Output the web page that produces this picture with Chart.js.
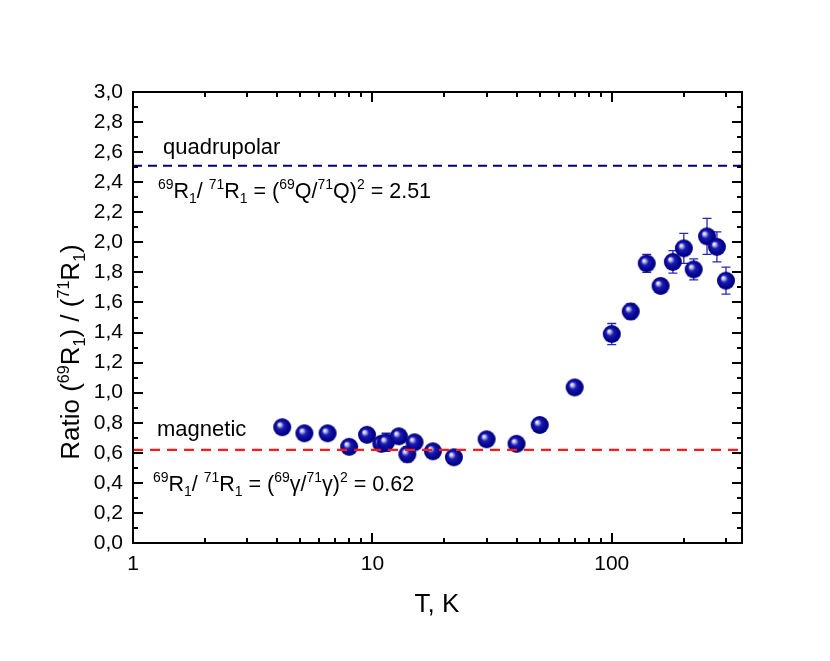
<!DOCTYPE html>
<html>
<head>
<meta charset="utf-8">
<script src="https://cdn.jsdelivr.net/npm/chart.js@4/dist/chart.umd.min.js"></script>
<style>
html,body{margin:0;padding:0;background:#fff;}
#wrap{width:830px;height:661px;}
</style>
</head>
<body>
<div id="wrap"><canvas id="c" width="830" height="661"></canvas></div>
<script>
// ---- data ----
const temperature = [4.2, 5.2, 6.5, 8.0, 9.5, 10.9, 11.4, 12.9, 14.0, 15.0, 17.9, 21.9, 30, 40, 50, 70, 100, 120, 140, 160, 180, 200, 220, 250, 275, 300];
const ratio = [0.77, 0.73, 0.73, 0.64, 0.72, 0.66, 0.67, 0.71, 0.59, 0.67, 0.61, 0.57, 0.69, 0.66, 0.785, 1.035, 1.39, 1.54, 1.86, 1.71, 1.87, 1.96, 1.82, 2.04, 1.97, 1.745];
const ratioErr = [0.02, 0.02, 0.02, 0.02, 0.03, 0.03, 0.06, 0.03, 0.05, 0.03, 0.02, 0.02, 0.02, 0.02, 0.02, 0.03, 0.07, 0.05, 0.06, 0.04, 0.075, 0.1, 0.07, 0.12, 0.1, 0.09];
const quadrupolarLimit = 2.51;
const magneticLimit = 0.62;
const xRange = [1, 350];
const yRange = [0, 3];
const xLabelTicks = [1, 10, 100];
const xMinorTicks = [2,3,4,5,6,7,8,9,20,30,40,50,60,70,80,90,200,300];

const FONT = '"Liberation Sans", Arial, Helvetica, sans-serif';

// sphere marker
function makeSphere(r) {
  const c = document.createElement('canvas');
  const s = Math.ceil(r * 2 + 2);
  c.width = s; c.height = s;
  const g = c.getContext('2d');
  const cx = s / 2, cy = s / 2;
  const grad = g.createRadialGradient(cx - r * 0.35, cy - r * 0.35, 0, cx, cy, r);
  grad.addColorStop(0, '#ffffff');
  grad.addColorStop(0.16, '#c8c8f0');
  grad.addColorStop(0.42, '#1a1ab0');
  grad.addColorStop(0.85, '#00008c');
  grad.addColorStop(1, '#000070');
  g.fillStyle = grad;
  g.beginPath(); g.arc(cx, cy, r, 0, Math.PI * 2); g.fill();
  return c;
}
const sphere = makeSphere(9);

function drawRich(ctx, segs, x, y, size, align, ratioSmall) {
  const small = size * (ratioSmall || 0.62);
  let w = 0;
  segs.forEach(sg => {
    ctx.font = (sg.s ? small : size) + 'px ' + FONT;
    sg.w = ctx.measureText(sg.t).width;
    w += sg.w;
  });
  let cx = align === 'center' ? x - w / 2 : x;
  ctx.textBaseline = 'alphabetic';
  ctx.textAlign = 'left';
  segs.forEach(sg => {
    ctx.font = (sg.s ? small : size) + 'px ' + FONT;
    let dy = 0;
    if (sg.s === 'sup') dy = -size * 0.4;
    if (sg.s === 'sub') dy = size * 0.22;
    ctx.fillText(sg.t, cx, y + dy);
    cx += sg.w;
  });
}

const decor = {
  id: 'decor',
  beforeDatasetsDraw(chart) {
    const ctx = chart.ctx, xs = chart.scales.x, ys = chart.scales.y;
    ctx.save();
    ctx.strokeStyle = '#2828b8';
    ctx.lineWidth = 1.3;
    for (let i = 0; i < temperature.length; i++) {
      const px = xs.getPixelForValue(temperature[i]);
      const y1 = ys.getPixelForValue(ratio[i] - ratioErr[i]);
      const y2 = ys.getPixelForValue(ratio[i] + ratioErr[i]);
      ctx.beginPath();
      ctx.moveTo(px, y1); ctx.lineTo(px, y2);
      ctx.moveTo(px - 4.5, y1); ctx.lineTo(px + 4.5, y1);
      ctx.moveTo(px - 4.5, y2); ctx.lineTo(px + 4.5, y2);
      ctx.stroke();
    }
    ctx.restore();
  },
  afterDraw(chart) {
    const ctx = chart.ctx, xs = chart.scales.x, ys = chart.scales.y;
    const a = chart.chartArea;
    ctx.save();
    ctx.strokeStyle = '#000';
    ctx.lineWidth = 2;
    ctx.strokeRect(a.left, a.top, a.right - a.left, a.bottom - a.top);
    ctx.beginPath();
    const tickX = (v, len) => {
      const p = Math.round(xs.getPixelForValue(v));
      ctx.moveTo(p, a.bottom); ctx.lineTo(p, a.bottom - len);
      ctx.moveTo(p, a.top); ctx.lineTo(p, a.top + len);
    };
    xLabelTicks.forEach(v => tickX(v, 10));
    xMinorTicks.forEach(v => tickX(v, 5));
    for (let k = 0; k <= 30; k++) {
      const v = k / 10;
      const len = k % 2 === 0 ? 10 : 5;
      const p = Math.round(ys.getPixelForValue(v));
      ctx.moveTo(a.left, p); ctx.lineTo(a.left + len, p);
      ctx.moveTo(a.right, p); ctx.lineTo(a.right - len, p);
    }
    ctx.stroke();

    ctx.fillStyle = '#000';
    // annotations
    ctx.font = '22px ' + FONT;
    ctx.textAlign = 'left'; ctx.textBaseline = 'alphabetic';
    ctx.fillText('quadrupolar', 163, 154);
    ctx.fillText('magnetic', 157, 436);
    drawRich(ctx, [
      {t:'69',s:'sup'},{t:'R'},{t:'1',s:'sub'},{t:'/ '},{t:'71',s:'sup'},{t:'R'},{t:'1',s:'sub'},
      {t:' = ('},{t:'69',s:'sup'},{t:'Q/'},{t:'71',s:'sup'},{t:'Q)'},{t:'2',s:'sup'},{t:' = 2.51'}
    ], 158, 198, 21.5, 'left', 0.65);
    drawRich(ctx, [
      {t:'69',s:'sup'},{t:'R'},{t:'1',s:'sub'},{t:'/ '},{t:'71',s:'sup'},{t:'R'},{t:'1',s:'sub'},
      {t:' = ('},{t:'69',s:'sup'},{t:'γ/'},{t:'71',s:'sup'},{t:'γ)'},{t:'2',s:'sup'},{t:' = 0.62'}
    ], 153, 491, 21.5, 'left', 0.65);

    // axis titles
    ctx.font = '26px ' + FONT;
    ctx.textAlign = 'center';
    ctx.fillText('T, K', 437, 612);
    ctx.save();
    ctx.translate(79, 352);
    ctx.rotate(-Math.PI / 2);
    drawRich(ctx, [
      {t:'Ratio ('},{t:'69',s:'sup'},{t:'R'},{t:'1',s:'sub'},{t:') / ('},{t:'71',s:'sup'},{t:'R'},{t:'1',s:'sub'},{t:')'}
    ], 0, 0, 26, 'center', 0.62);
    ctx.restore();
    ctx.restore();
  }
};

new Chart(document.getElementById('c'), {
  type: 'scatter',
  data: {
    datasets: [
      {
        type: 'line',
        data: [{x: xRange[0], y: quadrupolarLimit}, {x: xRange[1], y: quadrupolarLimit}],
        borderColor: '#00007a', borderWidth: 2, borderDash: [9, 6], pointRadius: 0, fill: false
      },
      {
        type: 'line',
        data: [{x: xRange[0], y: magneticLimit}, {x: xRange[1], y: magneticLimit}],
        borderColor: '#ff1a1a', borderWidth: 2.2, borderDash: [10, 7], pointRadius: 0, fill: false
      },
      {
        data: temperature.map((t, i) => ({x: t, y: ratio[i]})),
        pointStyle: sphere, pointRadius: 9, pointHoverRadius: 9
      }
    ]
  },
  options: {
    responsive: false,
    animation: false,
    events: [],
    layout: {padding: {left: 0, right: 88, top: 92, bottom: 0}},
    plugins: {legend: {display: false}, tooltip: {enabled: false}},
    scales: {
      x: {
        type: 'logarithmic', min: xRange[0], max: xRange[1],
        grid: {display: false, drawTicks: false}, border: {display: false},
        afterBuildTicks(s) { s.ticks = xLabelTicks.map(v => ({value: v})); },
        afterFit(s) { s.height = 118; },
        ticks: {
          padding: 9, color: '#000', font: {family: FONT, size: 21}, maxRotation: 0, autoSkip: false,
          callback: v => String(v)
        }
      },
      y: {
        min: yRange[0], max: yRange[1],
        grid: {display: false, drawTicks: false}, border: {display: false},
        afterFit(s) { s.width = 133; },
        ticks: {
          stepSize: 0.2, padding: 10, color: '#000', font: {family: FONT, size: 21},
          callback: v => v.toFixed(1).replace('.', ',')
        }
      }
    }
  },
  plugins: [decor]
});
</script>
</body>
</html>
